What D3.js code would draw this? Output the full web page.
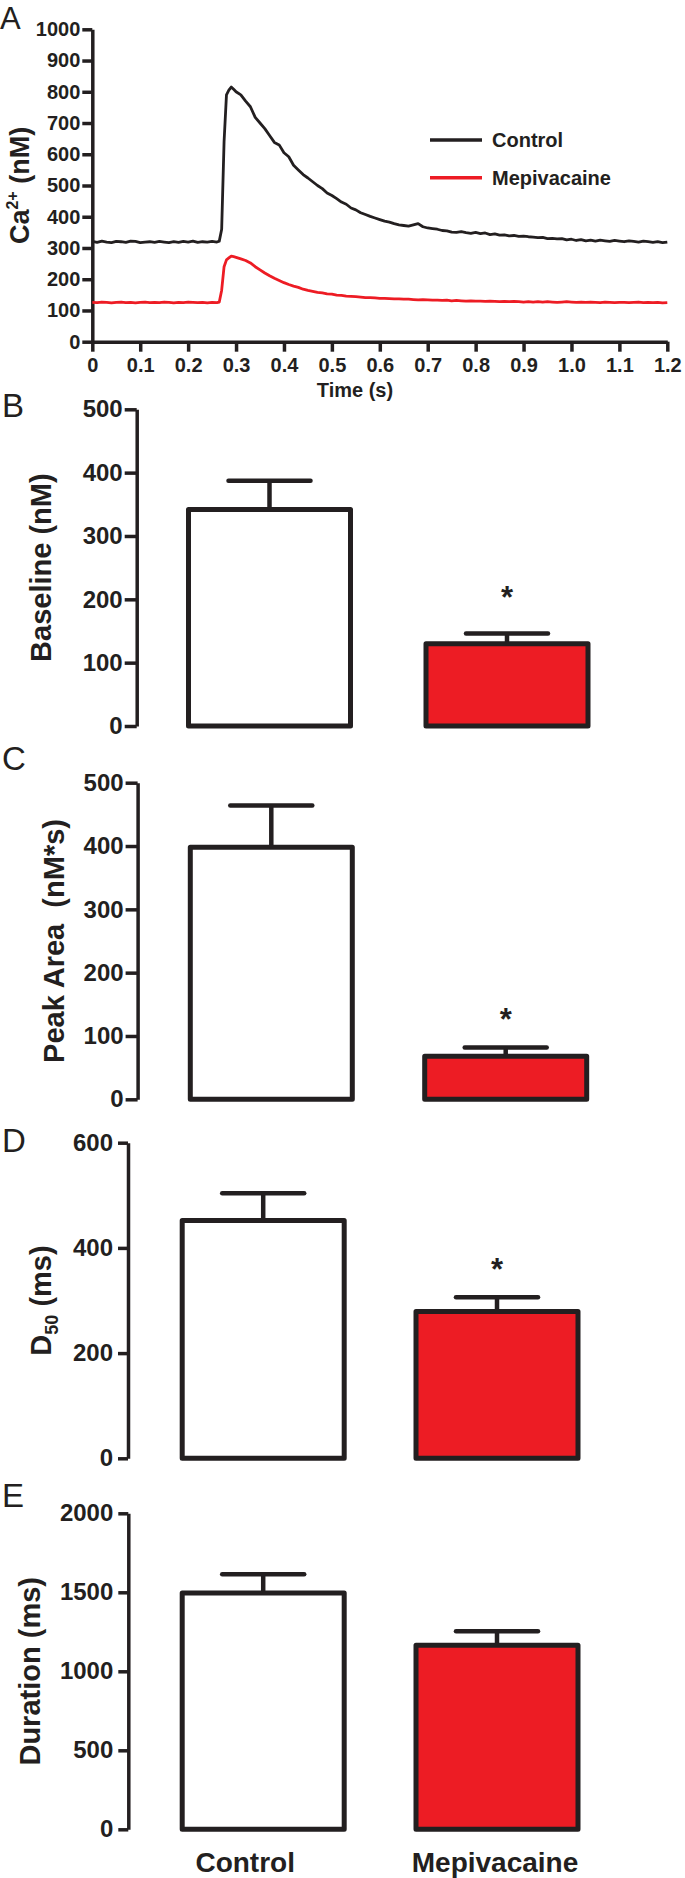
<!DOCTYPE html>
<html><head><meta charset="utf-8">
<script src="https://cdn.jsdelivr.net/npm/d3@7"></script>
<style>
body{margin:0;background:#fff;}
svg text{font-family:"Liberation Sans",Arial,Helvetica,sans-serif;}
</style></head><body>
<svg id="fig" width="685" height="1878"></svg>
<script>
// ---------- DATA ----------
const timeS = [0,0.01,0.02,0.03,0.04,0.05,0.06,0.07,0.08,0.09,0.10,0.11,0.12,0.13,0.14,0.15,0.16,0.17,0.18,0.19,0.20,0.21,0.22,0.23,0.24,0.25,0.26,
  0.265,0.27,0.275,0.28,0.285,0.29,0.295,0.30,
  0.31,0.32,0.33,0.34,0.35,0.36,0.37,0.38,0.39,0.40,
  0.41,0.42,0.43,0.44,0.45,0.46,0.47,0.48,0.49,0.50,
  0.51,0.52,0.53,0.54,0.55,0.56,0.57,0.58,0.59,0.60,
  0.61,0.62,0.63,0.64,0.65,0.66,0.67,0.68,0.69,0.70,
  0.71,0.72,0.73,0.74,0.75,0.76,0.77,0.78,0.79,0.80,
  0.81,0.82,0.83,0.84,0.85,0.86,0.87,0.88,0.89,0.90,
  0.91,0.92,0.93,0.94,0.95,0.96,0.97,0.98,0.99,1.00,
  1.01,1.02,1.03,1.04,1.05,1.06,1.07,1.08,1.09,1.10,
  1.11,1.12,1.13,1.14,1.15,1.16,1.17,1.18,1.19,1.20];
const controlTrace = [321,318,322,319,317,321,320,318,322,321,317,319,320,318,321,319,317,320,318,321,319,322,318,320,319,321,319,
  322,360,640,790,805,815,808,800,
  790,770,752,718,700,682,660,638,630,605,
  592,565,550,535,524,512,500,490,476,468,
  458,447,440,428,422,413,407,401,396,391,
  386,383,378,374,372,370,374,378,368,364,
  362,360,356,355,351,350,352,349,347,350,
  346,348,343,345,341,342,339,340,337,338,
  336,335,333,334,330,331,329,330,326,328,
  324,327,323,325,322,325,323,321,324,322,
  320,323,321,319,322,320,318,320,317,319];
const mepivacaineTrace = [126,125,127,126,124,126,127,125,126,124,126,127,125,126,125,127,126,124,126,125,127,126,125,126,124,126,125,
  127,165,240,262,268,274,272,270,
  265,260,252,240,230,220,211,203,196,189,
  183,178,174,168,164,161,158,156,153,152,
  149,148,146,145,144,143,141,141,140,139,
  139,138,137,137,136,136,135,134,135,134,
  133,133,132,133,131,132,131,130,131,130,
  130,129,130,129,128,129,128,129,128,127,
  128,127,128,127,128,127,126,127,128,127,
  126,127,126,127,126,125,127,126,125,126,
  126,125,126,127,125,126,125,126,124,125];
const seriesNames = ["Control","Mepivacaine"];
const timeTicks = [0,0.1,0.2,0.3,0.4,0.5,0.6,0.7,0.8,0.9,1.0,1.1,1.2];
const timeTickLabels = ["0","0.1","0.2","0.3","0.4","0.5","0.6","0.7","0.8","0.9","1.0","1.1","1.2"];
const caTicks = [0,100,200,300,400,500,600,700,800,900,1000];

const categories = ["Control","Mepivacaine"];
const baselineMean = [342,130];
const baselineSem = [45,16];
const baselineTicks = [0,100,200,300,400,500];
const peakAreaMean = [398,68];
const peakAreaSem = [66,14];
const peakAreaTicks = [0,100,200,300,400,500];
const d50Mean = [452,279];
const d50Sem = [52,27];
const d50Ticks = [0,200,400,600];
const durationMean = [1495,1165];
const durationSem = [120,88];
const durationTicks = [0,500,1000,1500,2000];
const panelLetters = ["A","B","C","D","E"];

// ---------- DRAW ----------
const INK = "#231f20", RED = "#ed1c24";
const svg = d3.select("#fig");
svg.append("rect").attr("width",685).attr("height",1878).attr("fill","#fff");

function styleAxis(g, fs){
  g.select(".domain").attr("stroke",INK).attr("stroke-width",3.5);
  g.selectAll(".tick line").attr("stroke",INK).attr("stroke-width",3.5);
  g.selectAll(".tick text").attr("fill",INK).attr("font-size",fs).attr("font-weight","bold")
    .attr("font-family",'"Liberation Sans",Arial,sans-serif');
}

// Panel letters
const letterPos = [[0,29],[2,417],[2,770],[2,1152],[2,1507]];
panelLetters.forEach((L,i)=>{
  svg.append("text").attr("x",letterPos[i][0]).attr("y",letterPos[i][1])
    .attr("font-size",i===0?31:33).attr("fill",INK).text(L);
});

// Panel A
const xA = d3.scaleLinear().domain([0,1.2]).range([92.3,667.3]);
const yA = d3.scaleLinear().domain([0,1000]).range([341.7,29.3]);
const gYA = svg.append("g").attr("transform",`translate(${xA(0)},0)`)
  .call(d3.axisLeft(yA).tickValues(caTicks).tickFormat(d=>String(d)).tickSize(10).tickSizeOuter(0).tickPadding(2));
styleAxis(gYA,20);
const gXA = svg.append("g").attr("transform",`translate(0,${yA(0)})`)
  .call(d3.axisBottom(xA).tickValues(timeTicks).tickFormat((d,i)=>timeTickLabels[i]).tickSize(10).tickSizeOuter(0).tickPadding(6));
styleAxis(gXA,20);

const lineA = d3.line().x((d,i)=>xA(timeS[i])).y(d=>yA(d));
svg.append("path").datum(mepivacaineTrace).attr("d",lineA).attr("fill","none")
  .attr("stroke",RED).attr("stroke-width",2.8).attr("stroke-linejoin","round");
svg.append("path").datum(controlTrace).attr("d",lineA).attr("fill","none")
  .attr("stroke",INK).attr("stroke-width",2.8).attr("stroke-linejoin","round");

svg.append("text").attr("x",355).attr("y",397).attr("text-anchor","middle")
  .attr("font-size",20).attr("font-weight","bold").attr("fill",INK).text("Time (s)");

const tA = svg.append("text").attr("transform",`translate(29,${(yA(0)+yA(1000))/2}) rotate(-90)`)
  .attr("text-anchor","middle").attr("font-size",27).attr("font-weight","bold").attr("fill",INK);
tA.append("tspan").text("Ca");
tA.append("tspan").attr("font-size",16).attr("dy",-11).text("2+");
tA.append("tspan").attr("dy",11).text(" (nM)");

// Legend
const legColors = [INK, RED];
const legY = [140,177.7];
seriesNames.forEach((n,i)=>{
  svg.append("line").attr("x1",430).attr("x2",482).attr("y1",legY[i]).attr("y2",legY[i])
    .attr("stroke",legColors[i]).attr("stroke-width",3.5);
  svg.append("text").attr("x",492).attr("y",legY[i]+6.8).attr("font-size",20)
    .attr("font-weight","bold").attr("fill",INK).text(n);
});

// Bar panels
function barPanel(cfg){
  const y = d3.scaleLinear().domain([0,cfg.max]).range([cfg.y0,cfg.yTop]);
  const bw = 162, step = cfg.c1 - cfg.c0;
  const x = d3.scaleBand().domain(categories).range([cfg.c0 - bw/2, cfg.c1 + bw/2])
    .paddingInner(1 - bw/step).paddingOuter(0);
  const g = svg.append("g");
  const ga = g.append("g").attr("transform",`translate(${cfg.ax},0)`)
    .call(d3.axisLeft(y).tickValues(cfg.ticks).tickFormat(d=>String(d)).tickSize(cfg.ts).tickSizeOuter(0).tickPadding(cfg.tp));
  styleAxis(ga,24);
  categories.forEach((c,i)=>{
    const m = cfg.mean[i], s = cfg.sem[i];
    const cx = x(c) + x.bandwidth()/2;
    g.append("line").attr("x1",cx).attr("x2",cx).attr("y1",y(m)).attr("y2",y(m+s))
      .attr("stroke",INK).attr("stroke-width",4.5);
    g.append("line").attr("x1",cx-41).attr("x2",cx+41).attr("y1",y(m+s)).attr("y2",y(m+s))
      .attr("stroke",INK).attr("stroke-width",4.5).attr("stroke-linecap","round");
    g.append("rect").attr("x",x(c)).attr("y",y(m)).attr("width",x.bandwidth()).attr("height",y(0)-y(m))
      .attr("fill",i===0?"#ffffff":RED).attr("stroke",INK).attr("stroke-width",5).attr("stroke-linejoin","round");
    if(cfg.sig[i]){
      g.append("text").attr("x",cx).attr("y",y(m+s)-cfg.starOff+18).attr("text-anchor","middle")
        .attr("font-size",31).attr("font-weight","bold").attr("fill",INK).text("*");
    }
  });
  const t = g.append("text").attr("transform",`translate(${cfg.tb},${(cfg.y0+cfg.yTop)/2}) rotate(-90)`)
    .attr("text-anchor","middle").attr("font-size",29).attr("font-weight","bold").attr("fill",INK)
    .style("white-space","pre");
  cfg.title(t);
  return x;
}

barPanel({max:500,y0:726,yTop:409.3,ax:136.7,c0:269.5,c1:507,ticks:baselineTicks,ts:12,tp:2,
  mean:baselineMean,sem:baselineSem,sig:[false,true],starOff:44,tb:51,
  title:t=>t.text("Baseline (nM)")});
barPanel({max:500,y0:1099.3,yTop:782.7,ax:137.6,c0:271.3,c1:505.7,ticks:peakAreaTicks,ts:12,tp:2,
  mean:peakAreaMean,sem:peakAreaSem,sig:[false,true],starOff:35,tb:64,
  title:t=>t.text("Peak Area  (nM*s)")});
barPanel({max:600,y0:1458.3,yTop:1142.7,ax:128,c0:263.2,c1:497,ticks:d50Ticks,ts:10,tp:5,
  mean:d50Mean,sem:d50Sem,sig:[false,true],starOff:35,tb:51,
  title:t=>{t.append("tspan").text("D");t.append("tspan").attr("font-size",18).attr("dy",7).text("50");t.append("tspan").attr("dy",-7).text(" (ms)");}});
const xE = barPanel({max:2000,y0:1829.3,yTop:1513.3,ax:128.3,c0:263.2,c1:497,ticks:durationTicks,ts:10,tp:5,
  mean:durationMean,sem:durationSem,sig:[false,false],starOff:35,tb:40,
  title:t=>t.text("Duration (ms)")});

// Category labels
const catOffset = [-18,-2];
categories.forEach((c,i)=>{
  svg.append("text").attr("x",xE(c)+xE.bandwidth()/2+catOffset[i]).attr("y",1872)
    .attr("text-anchor","middle").attr("font-size",28).attr("font-weight","bold").attr("fill",INK).text(c);
});
</script>
</body></html>
